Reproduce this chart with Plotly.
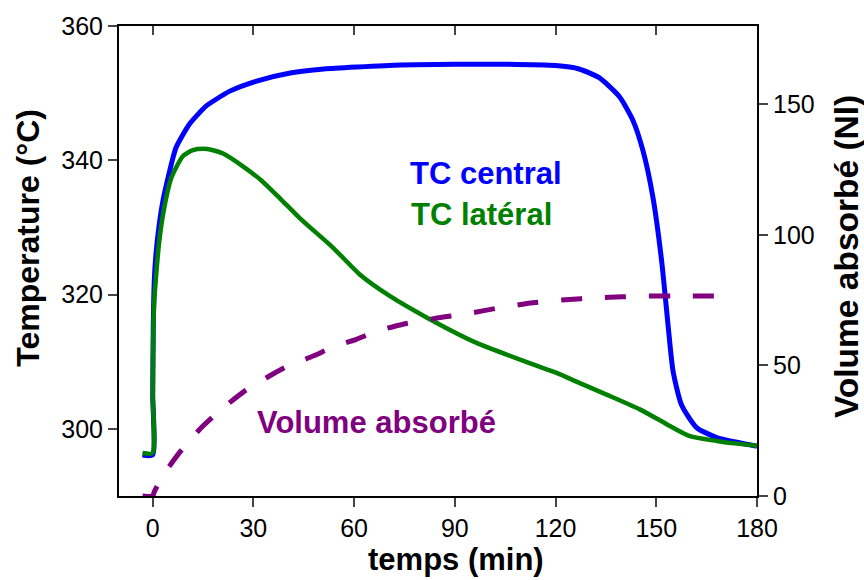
import plotly.graph_objects as go

# ---- data ----
t_central = [-3, 0, 0.05, 0.2, 0.5, 1, 2, 3.1, 4.6, 7, 11, 14, 16, 23, 31, 41, 51, 61, 74,
             90, 105, 120, 127, 133, 139, 143, 146, 149, 151.6, 153.6, 155, 157.5, 162, 168, 174, 180]
T_central = [296.1, 296.1, 305, 315, 322, 326, 330.5, 334, 337.4, 341.9, 345.4, 347.1, 348.1,
             350.3, 351.8, 353.0, 353.6, 353.9, 354.2, 354.3, 354.3, 354.1, 353.6, 352.3,
             349.5, 346, 341.5, 334.5, 325, 315, 308.6, 303.6, 300.2, 298.7, 298, 297.4]

t_lateral = [-3, 0, 0.05, 0.2, 0.5, 1, 2, 3.5, 5.6, 9, 12, 15, 18, 21, 26.9, 32.4, 38, 43.8,
             53.7, 61.7, 70.6, 81.6, 96.5, 113.3, 120, 125, 135.2, 145.1, 153.1, 160, 168, 174, 180]
T_lateral = [296.4, 296.4, 305, 314, 319, 322.5, 328, 333, 337.4, 340.6, 341.5, 341.7, 341.5,
             341.0, 339.1, 337.0, 334.3, 331.4, 327.0, 323.0, 319.8, 316.6, 312.8, 309.6,
             308.4, 307.3, 305.1, 302.9, 300.7, 298.9, 298.2, 297.8, 297.5]

t_volume = [-3, 0, 0.6, 4, 8, 14, 20.5, 27, 33.9, 40, 47.8, 54, 60.7, 67, 74.6, 84, 93.5,
            103, 113.3, 123, 132.2, 140, 146.1, 160, 170]
V_volume = [0, 0, 1.9, 9.5, 16.6, 25.5, 33.2, 39.8, 45.3, 49.6, 53.6, 57.2, 60.0, 63.2, 65.8,
            68.0, 69.8, 72.0, 74.0, 75.2, 75.9, 76.3, 76.6, 76.6, 76.6]

x_ticks = [0, 30, 60, 90, 120, 150, 180]
y_ticks = [300, 320, 340, 360]
y2_ticks = [0, 50, 100, 150]

BLUE = "#0000FF"
GREEN = "#008000"
PURPLE = "#800080"
FONT = "Liberation Sans, Arial, sans-serif"

fig = go.Figure()
fig.add_trace(go.Scatter(x=t_volume, y=V_volume, yaxis="y2", mode="lines",
                         line=dict(color=PURPLE, width=5, dash="21px,23px",
                                   shape="spline", smoothing=0.6),
                         showlegend=False))
fig.add_trace(go.Scatter(x=t_central, y=T_central, mode="lines",
                         line=dict(color=BLUE, width=5, shape="spline", smoothing=0.6),
                         showlegend=False))
fig.add_trace(go.Scatter(x=t_lateral, y=T_lateral, mode="lines",
                         line=dict(color=GREEN, width=4.5, shape="spline", smoothing=0.6),
                         showlegend=False))
# invisible trace to activate top tick axis
fig.add_trace(go.Scatter(x=[0], y=[300], xaxis="x2", mode="markers",
                         marker=dict(opacity=0), showlegend=False, hoverinfo="skip"))

tickfont = dict(family=FONT, size=25, color="black")
fig.update_layout(
    width=864, height=580,
    margin=dict(l=119, r=107, t=24, b=84),
    paper_bgcolor="white", plot_bgcolor="white",
    xaxis=dict(range=[-10, 180], tickvals=x_ticks, ticks="outside", ticklen=9,
               tickwidth=1.5, showline=True, linewidth=2, linecolor="black",
               mirror=True, showgrid=False, zeroline=False, tickfont=tickfont),
    xaxis2=dict(range=[-10, 180], tickvals=x_ticks, ticks="inside", ticklen=9,
                tickwidth=1.5, overlaying="x", side="top", showticklabels=False,
                showline=False, showgrid=False, zeroline=False),
    yaxis=dict(range=[290, 360], tickvals=y_ticks, ticks="outside", ticklen=9,
               tickwidth=1.5, showline=True, linewidth=2, linecolor="black",
               showgrid=False, zeroline=False, tickfont=tickfont),
    yaxis2=dict(range=[0, 180], tickvals=y2_ticks, ticks="outside", ticklen=9,
                tickwidth=1.5, showline=True, linewidth=2, linecolor="black",
                overlaying="y", side="right", showgrid=False, zeroline=False,
                tickfont=tickfont),
    annotations=[
        dict(text="<b>TC central</b>", x=76.0, y=338.0, xref="x", yref="y",
             xanchor="left", yanchor="middle", showarrow=False,
             font=dict(family=FONT, size=31, color=BLUE)),
        dict(text="<b>TC latéral</b>", x=76.5, y=332.0, xref="x", yref="y",
             xanchor="left", yanchor="middle", showarrow=False,
             font=dict(family=FONT, size=31, color=GREEN)),
        dict(text="<b>Volume absorbé</b>", x=30.4, y=301.0, xref="x", yref="y",
             xanchor="left", yanchor="middle", showarrow=False,
             font=dict(family=FONT, size=31, color=PURPLE)),
        dict(text="<b>temps (min)</b>", x=0.528, y=-0.1356, xref="paper", yref="paper",
             xanchor="center", yanchor="middle", showarrow=False,
             font=dict(family=FONT, size=31, color="black")),
        dict(text="<b>Temperature (°C)</b>", x=-0.1418, y=0.5487, xref="paper",
             yref="paper", xanchor="center", yanchor="middle", textangle=-90,
             showarrow=False, font=dict(family=FONT, size=32, color="black")),
        dict(text="<b>Volume absorbé (Nl)</b>", x=1.1395, y=0.5085, xref="paper",
             yref="paper", xanchor="center", yanchor="middle", textangle=-90,
             showarrow=False, font=dict(family=FONT, size=33.5, color="black")),
    ],
)

fig.write_html("out.html",
               config={"displayModeBar": False},
               post_script="document.body.style.margin='0';document.body.style.overflow='hidden';")
